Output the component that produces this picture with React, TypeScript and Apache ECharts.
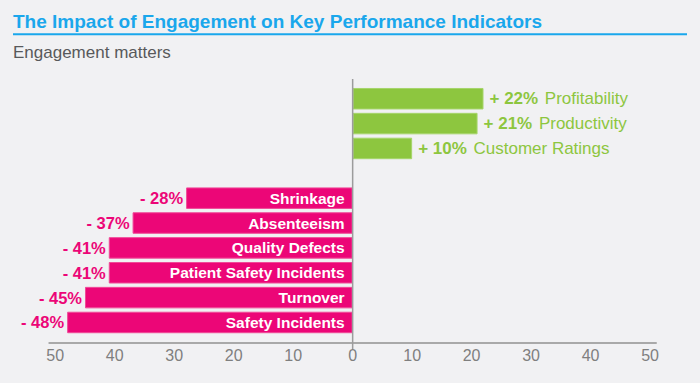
import React, { useEffect, useRef } from "react";
import * as echarts from "echarts";

const categories = [
  "Profitability",
  "Productivity",
  "Customer Ratings",
  "",
  "Shrinkage",
  "Absenteeism",
  "Quality Defects",
  "Patient Safety Incidents",
  "Turnover",
  "Safety Incidents",
];
const values: (number | null)[] = [22, 21, 10, null, -28, -37, -41, -41, -45, -48];
const tickValues = [-50, -40, -30, -20, -10, 0, 10, 20, 30, 40, 50];

const GREEN = "#8dc63f";
const PINK = "#ec0677";
const BLUE = "#1aa7ec";
const BG = "#f1f1f3";
const FONT = "Liberation Sans";

export default function App() {
  const ref = useRef<HTMLDivElement>(null);
  useEffect(() => {
    if (!ref.current) return;
    const chart = echarts.init(ref.current, undefined, { renderer: "svg" });

    const barData = values.map((v) => {
      if (v === null) return { value: null };
      const pos = v > 0;
      return {
        value: v,
        itemStyle: {
          color: pos ? GREEN : PINK,
          borderColor: pos ? "#a6d56a" : "#f04a98",
          borderWidth: 1,
        },
        label: pos
          ? {
              show: true,
              position: "right",
              distance: 6,
              formatter: (p: any) => `{v|+ ${p.value}%}  {n|${p.name}}`,
              rich: {
                v: { fontFamily: FONT, fontSize: 17, fontWeight: "bold", color: GREEN },
                n: { fontFamily: FONT, fontSize: 17, color: GREEN },
              },
            }
          : {
              show: true,
              position: "left",
              distance: 3,
              formatter: (p: any) => `- ${Math.abs(p.value)}%`,
              fontFamily: FONT,
              fontSize: 16.5,
              fontWeight: "bold",
              color: PINK,
            },
      };
    });

    const nameData = values.map((v) => (v !== null && v < 0 ? v : null));

    const option: any = {
      animation: false,
      backgroundColor: BG,
      title: [
        {
          text: "The Impact of Engagement on Key Performance Indicators",
          left: 13,
          top: 12,
          padding: 0,
          textStyle: { fontFamily: FONT, fontSize: 19, fontWeight: "bold", color: BLUE },
        },
        {
          text: "Engagement matters",
          left: 13,
          top: 44,
          padding: 0,
          textStyle: { fontFamily: FONT, fontSize: 17, fontWeight: "normal", color: "#58595b" },
        },
      ],
      grid: { left: 49.3, right: 44, top: 86.3, height: 248.6 },
      xAxis: {
        type: "value",
        min: -51,
        max: 51,
        offset: 8,
        splitLine: { show: false },
        axisTick: { show: false },
        axisLine: { show: true, onZero: false, lineStyle: { color: "#a9a9a9", width: 2 } },
        axisLabel: {
          customValues: tickValues,
          formatter: (v: number) => String(Math.abs(v)),
          color: "#7f7f7f",
          fontFamily: FONT,
          fontSize: 16,
          margin: 5,
        },
      },
      yAxis: {
        type: "category",
        data: categories,
        inverse: true,
        axisLine: { show: false },
        axisTick: { show: false },
        axisLabel: { show: false },
        splitLine: { show: false },
      },
      series: [
        {
          type: "bar",
          data: barData,
          barWidth: 21.5,
          barGap: "-100%",
        },
        {
          type: "bar",
          data: nameData,
          barWidth: 21.5,
          barGap: "-100%",
          silent: true,
          itemStyle: { color: "rgba(0,0,0,0)" },
          label: {
            show: true,
            position: "insideRight",
            distance: 8,
            formatter: (p: any) => p.name,
            fontFamily: FONT,
            fontSize: 15.5,
            fontWeight: "bold",
            color: "#ffffff",
          },
        },
      ],
    };
    chart.setOption(option);

    const x0 = chart.convertToPixel({ xAxisIndex: 0 }, 0) as number;
    chart.setOption({
      graphic: [
        {
          type: "line",
          shape: { x1: 13, y1: 34.3, x2: 687, y2: 34.3 },
          style: { stroke: BLUE, lineWidth: 2 },
          silent: true,
        },
        {
          type: "line",
          z: 10,
          shape: { x1: x0, y1: 79, x2: x0, y2: 349 },
          style: { stroke: "#9c9c9c", lineWidth: 1.5 },
          silent: true,
        },
      ],
    });

    return () => chart.dispose();
  }, []);

  return (
    <div
      ref={ref}
      style={{ position: "fixed", left: 0, top: 0, width: 700, height: 383 }}
    />
  );
}
